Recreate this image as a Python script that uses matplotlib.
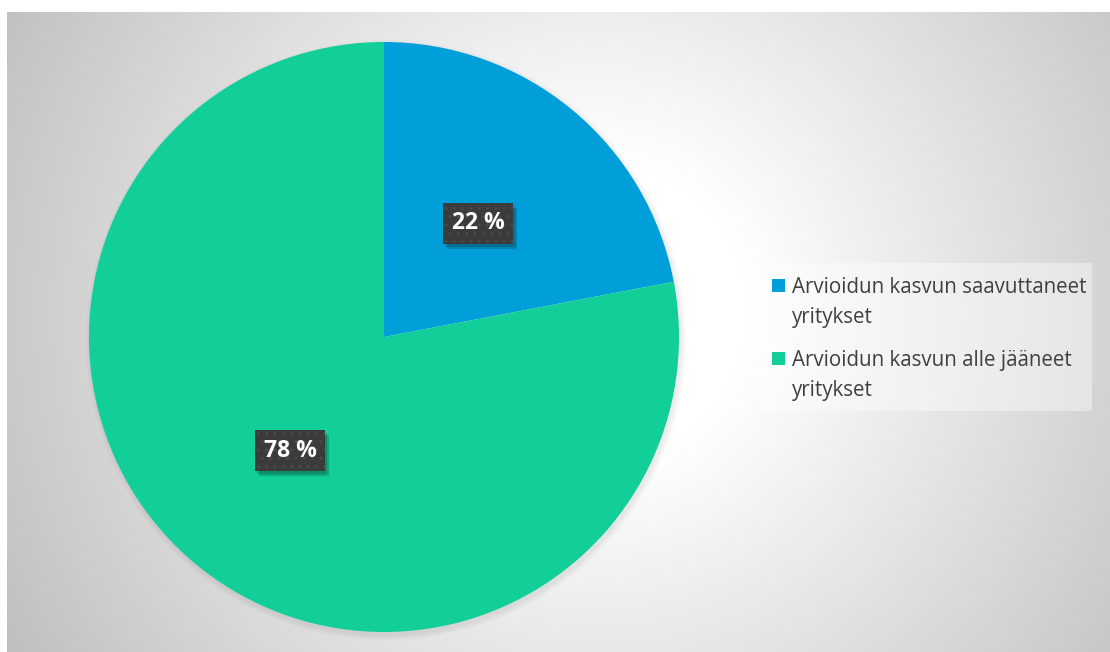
import numpy as np
import matplotlib
matplotlib.use("Agg")
import matplotlib.pyplot as plt
from matplotlib.patches import Rectangle, Circle

# ---- data ----
categories = ["Arvioidun kasvun saavuttaneet\nyritykset",
              "Arvioidun kasvun alle jääneet\nyritykset"]
values = [22, 78]
colors = ["#009FDA", "#12CF99"]

W, H = 1110, 652
fig = plt.figure(figsize=(W / 100, H / 100), dpi=100)
fig.patch.set_facecolor("white")
ax = fig.add_axes([0, 0, 1, 1])
ax.set_xlim(0, W)
ax.set_ylim(0, H)
ax.axis("off")

# chart area with radial gradient (pixel coords -> y flipped)
x0, x1, ytop, ybot = 7, W, 12, H
gx = np.linspace(x0, x1, 400)
gy = np.linspace(ytop, ybot, 240)
GX, GY = np.meshgrid(gx, gy)
cx, cy = (x0 + x1) / 2 + 40, (ytop + ybot) / 2 - 20
d = np.hypot(GX - cx, GY - cy)
v = 1.0 - 0.23 * np.clip((d - 150) / 490, 0, 1.1)
img = np.dstack([v, v, v])
ax.imshow(img, extent=[x0, x1, H - ybot, H - ytop], origin="upper",
          aspect="auto", zorder=0, interpolation="bilinear")

pcx, pcy, R = 384, H - 337, 295

# soft shadow behind pie
for i, a in enumerate([0.025, 0.025, 0.025]):
    ax.add_patch(Circle((pcx + 2, pcy - 3), R + 1 + 2 * i, color="black",
                        alpha=a, lw=0, zorder=1))

wedges, texts, autotexts = ax.pie(
    values, colors=colors, startangle=90, counterclock=False,
    center=(pcx, pcy), radius=R, autopct=lambda p: f"{p:.0f} %",
    pctdistance=0.5, wedgeprops=dict(linewidth=0),
    textprops=dict(color="white", fontsize=16.5, fontweight="bold",
                   family=["Open Sans", "DejaVu Sans"]))
for w in wedges:
    w.set_zorder(2)
ax.set_xlim(0, W)
ax.set_ylim(0, H)
ax.set_aspect("auto")

bw, bh = 70, 41
for t in autotexts:
    tx, ty = t.get_position()
    ax.add_patch(Rectangle((tx - bw / 2 + 4, ty - bh / 2 - 5), bw, bh,
                           facecolor="black", alpha=0.18, lw=0, zorder=3))
    ax.add_patch(Rectangle((tx - bw / 2 + 2, ty - bh / 2 - 3), bw, bh,
                           facecolor="black", alpha=0.15, lw=0, zorder=3))
    ax.add_patch(Rectangle((tx - bw / 2, ty - bh / 2), bw, bh,
                           facecolor="#3b3b3b", edgecolor="#4a4a4a", lw=0,
                           hatch="..", zorder=4))
    t.set_zorder(5)
    t.set_va("center")
    t.set_ha("center")

# legend
ax.add_patch(Rectangle((761, H - 411), 331, 148, facecolor="white",
                       alpha=0.4, lw=0, zorder=3))
leg_font = dict(fontsize=14.8, color="#404040",
                family=["Open Sans", "DejaVu Sans"], zorder=4)
line_baselines = [(293, 323), (366, 396)]
for (lab, col, (b1, b2)) in zip(categories, colors, line_baselines):
    l1, l2 = lab.split("\n")
    ax.add_patch(Rectangle((772, H - (b1 - 1)), 13, 13, facecolor=col,
                           lw=0, zorder=4))
    ax.text(792, H - b1, l1, va="baseline", ha="left", **leg_font)
    ax.text(792, H - b2, l2, va="baseline", ha="left", **leg_font)

fig.savefig("out.png", dpi=100, facecolor="white")
